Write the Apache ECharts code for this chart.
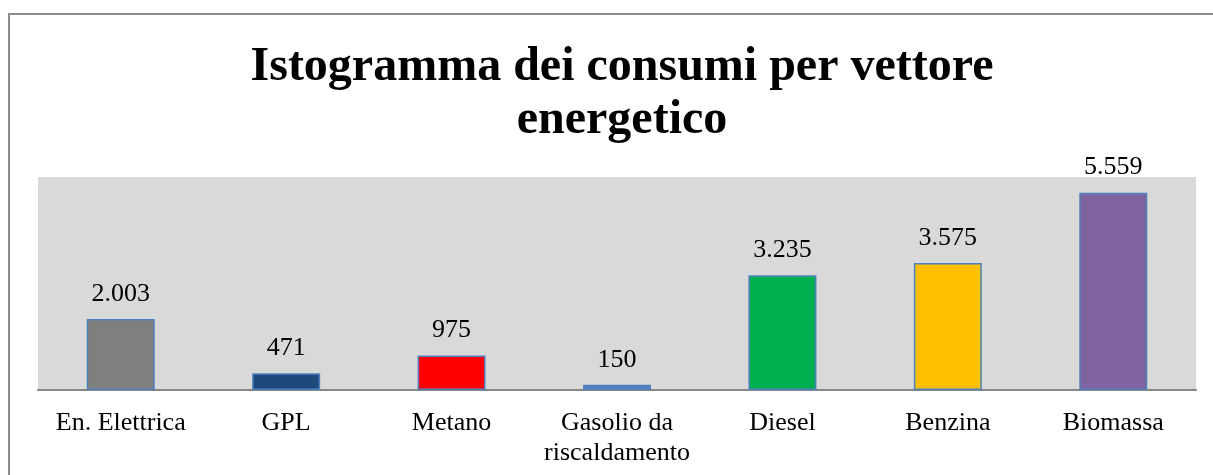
<!DOCTYPE html>
<html>
<head>
    <meta charset="UTF-8">
    <title>Istogramma dei consumi per vettore energetico</title>
    <script type="text/javascript" src="https://cdn.jsdelivr.net/npm/echarts@6/dist/echarts.min.js"></script>
</head>
<body style="margin: 0;overflow: hidden;background: #fff;">
<div id="chart" style="width: 1213px;height: 475px;"></div>
<script type="text/javascript">
    var categories = ['En. Elettrica', 'GPL', 'Metano', 'Gasolio da\nriscaldamento', 'Diesel', 'Benzina', 'Biomassa'];
    var consumi = [2003, 471, 975, 150, 3235, 3575, 5559];
    var barColors = ['#7f7f7f', '#1f497d', '#ff0000', '#4f81bd', '#00b050', '#ffc000', '#8064a2'];

    // separatore delle migliaia con il punto
    function formatIt(v) {
        return String(v).replace(/\B(?=(\d{3})+(?!\d))/g, '.');
    }

    var serif = '"Liberation Serif", "Times New Roman", serif';
    var chart = echarts.init(document.getElementById('chart'), null, {renderer: 'canvas'});
    var option = {
        backgroundColor: '#fff',
        animation: false,
        title: {
            text: 'Istogramma dei consumi per vettore\nenergetico',
            left: 617,
            top: 36,
            textAlign: 'center',
            textStyle: {
                fontFamily: serif,
                fontWeight: 'bold',
                fontSize: 48,
                lineHeight: 53,
                color: '#000'
            }
        },
        graphic: [{
            type: 'rect',
            shape: {x: 9, y: 14, width: 1400, height: 700},
            style: {fill: 'none', stroke: '#8c8c8c', lineWidth: 2},
            silent: true
        }],
        grid: {
            left: 38,
            right: 17,
            top: 177,
            bottom: 85,
            show: true,
            backgroundColor: '#d9d9d9',
            borderWidth: 0
        },
        xAxis: {
            type: 'category',
            data: categories,
            axisTick: {show: false},
            axisLine: {lineStyle: {color: '#868686', width: 2}},
            axisLabel: {
                interval: 0,
                margin: 18,
                color: '#000',
                fontFamily: serif,
                fontSize: 26,
                lineHeight: 30
            }
        },
        yAxis: {
            type: 'value',
            min: 0,
            max: 6000,
            show: false,
            splitLine: {show: false}
        },
        series: [{
            type: 'bar',
            barWidth: 68,
            data: consumi.map(function (v, i) {
                return {value: v, itemStyle: {color: barColors[i]}};
            }),
            itemStyle: {borderColor: '#4f81bd', borderWidth: 1.5},
            label: {
                show: true,
                position: 'top',
                distance: 12,
                color: '#000',
                fontFamily: serif,
                fontSize: 26,
                formatter: function (p) {
                    return formatIt(p.value);
                }
            }
        }]
    };
    chart.setOption(option);
</script>
</body>
</html>
